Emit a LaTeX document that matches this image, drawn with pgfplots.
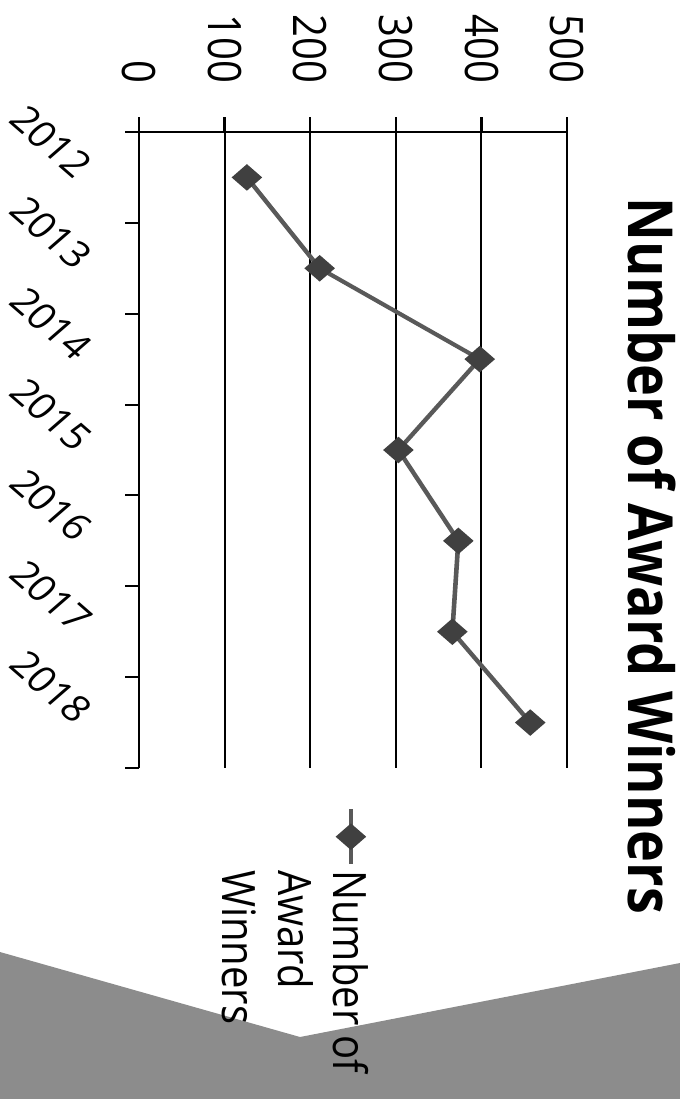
\documentclass[border=0pt]{standalone}
\usepackage{fontspec}
\setmainfont{Open Sans}
\usepackage{graphicx}
\usepackage{pgfplots}
\pgfplotsset{compat=1.18}
% the scan is turned a quarter clockwise and a little stretched across
\begin{document}
\scalebox{1.15}[1]{\rotatebox{-90}{%
\begin{tikzpicture}
  % shadow of the page at the foot of the scan
  \fill[black!45] (476pt,0pt) -- (518.5pt,130.45pt) -- (481.5pt,295.65pt)
     -- (549.5pt,295.65pt) -- (549.5pt,0pt) -- cycle;
  \begin{axis}[%
    ,at={(66pt,60.45pt)}, anchor=south west
    ,scale only axis, width=318pt, height=186.1pt
    ,xmin=0.5, xmax=7.5, ymin=0, ymax=500
    ,axis x line*=bottom, axis y line*=left
    ,axis line style={-, line width=1pt, black}
    ,xtick={1,2,3,4,5,6,7}
    ,xticklabels={2012,2013,2014,2015,2016,2017,2018}
    ,minor xtick={0.5,1.5,2.5,3.5,4.5,5.5,6.5,7.5}
    ,ytick={0,100,200,300,400,500}
    ,tick align=outside
    ,major tick length=7.5pt, minor tick length=6.1pt
    ,every tick/.style={black, line width=1pt}
    ,major x tick style={draw=none}
    ,ymajorgrids, grid style={line width=0.87pt, black}
    ,tick label style={font=\fontsize{20}{24}\selectfont}
    ,yticklabel style={anchor=east, inner sep=0pt, xshift=-16.5pt}
    ,xticklabel style={font=\fontsize{18}{22}\selectfont, xshift=-3.1pt, yshift=-16.1pt,
                       rotate=45, anchor=east, inner sep=0pt}
    ,/pgf/number format/assume math mode=true
    ,title={Number of Award Winners}
    ,title style={at={(0.6667,1.1118)}, anchor=base, inner sep=0pt,
                  font=\fontsize{27}{32}\selectfont\bfseries}
    ,legend style={at={(1.061,0.556)}, anchor=north west, draw=none, fill=none,
                   inner sep=0pt, font=\fontsize{20}{24}\selectfont}
    ,legend cell align=left
    ,legend image code/.code={\draw[mark repeat=2,mark phase=2]
        plot coordinates {(0pt,0pt) (13.75pt,0pt) (27.5pt,0pt)};}
    ]
    \addplot[color=black!65, line width=2pt, mark=square*, mark size=3.7pt,
             mark options={rotate=45, fill=black!75, draw=black!75}]
      coordinates {(1,126) (2,211) (3,398) (4,303) (5,373) (6,366) (7,457)};
    \addlegendentry{\begin{tabular}[t]{@{}l@{}}Number of\\Award\\Winners\end{tabular}}
  \end{axis}
  \pgfresetboundingbox
  \useasboundingbox (0pt,0pt) rectangle (549.5pt,295.65pt);
\end{tikzpicture}}}
\end{document}
